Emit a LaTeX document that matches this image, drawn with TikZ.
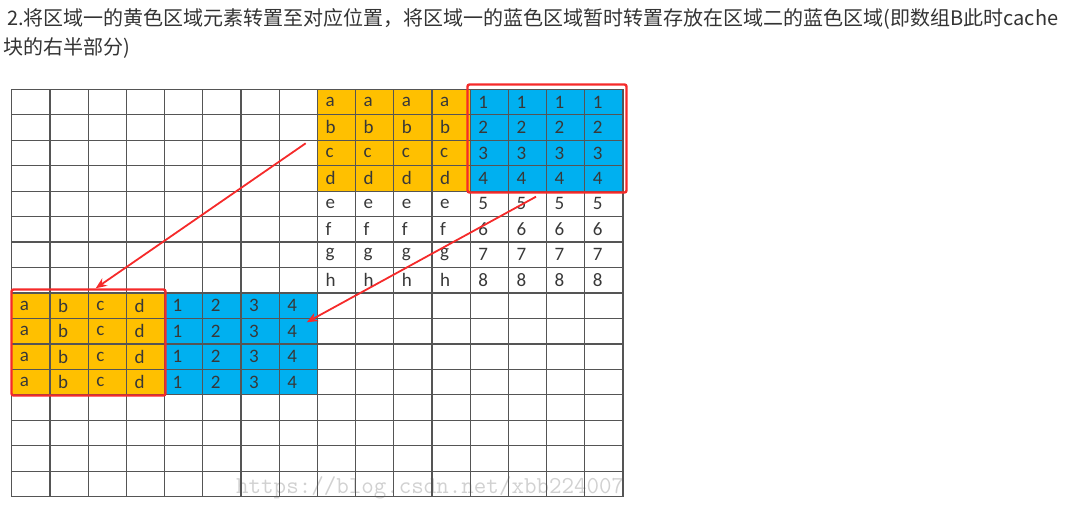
\documentclass[tikz,border=0pt]{standalone}
\usepackage{fontspec}
\setmainfont{Carlito}
\newfontfamily\cjk{Noto Sans CJK SC}
\usepackage{xcolor}
\usetikzlibrary{
    arrows.meta,
    calc
}
\definecolor{cellyel}{HTML}{FFC000}
\definecolor{cellblu}{HTML}{00B0F0}
\definecolor{gridgray}{HTML}{555555}
\definecolor{markred}{HTML}{F52A2A}
\definecolor{titlegray}{HTML}{333333}
\tikzset{yelcell/.style={fill=cellyel, draw=none}}
\tikzset{blucell/.style={fill=cellblu, draw=none}}
\tikzset{gridline/.style={draw=gridgray, line width=1.2pt}}
\tikzset{celltxt/.style={anchor=west, inner sep=0pt, font=\fontsize{19}{19}\selectfont, text=black!78}}
\tikzset{redbox/.style={draw=markred, line width=2.4pt, rounded corners=2pt}}
\tikzset{redarrow/.style={draw=markred, line width=1.8pt, -{Stealth[length=11pt, width=9pt]}}}

\begin{document}
\begin{tikzpicture}[x=1pt, y=-1pt]
                        \useasboundingbox (0,0) rectangle (1082,516);
                        % title
                        \node[anchor=west, inner sep=0pt, text=titlegray, font=\cjk\fontsize{20}{20}\selectfont] (title1) at (7,19) {2.将区域一的黄色区域元素转置至对应位置，将区域一的蓝色区域暂时转置存放在区域二的蓝色区域(即数组B此时cache};
                        \node[anchor=west, inner sep=0pt, text=titlegray, font=\cjk\fontsize{20}{20}\selectfont] (title2) at (3,48) {块的右半部分)};

                        % coloured cells
                        \foreach \r in {0,...,3} {
                            \foreach \c in {8,...,11}
                                \path[yelcell] ({11.7+\c*38.2},{89.3+\r*25.46}) rectangle ++(38.2,25.46);
                            \foreach \c in {12,...,15}
                                \path[blucell] ({11.7+\c*38.2},{89.3+\r*25.46}) rectangle ++(38.2,25.46);
                        }
                        \foreach \r in {8,...,11} {
                            \foreach \c in {0,...,3}
                                \path[yelcell] ({11.7+\c*38.2},{89.3+\r*25.46}) rectangle ++(38.2,25.46);
                            \foreach \c in {4,...,7}
                                \path[blucell] ({11.7+\c*38.2},{89.3+\r*25.46}) rectangle ++(38.2,25.46);
                        }

                        % watermark
                        \node[anchor=base west, inner sep=0pt, text=black!18, font=\ttfamily\fontsize{24.3}{24.3}\selectfont] (mark) at (236,493) {https://blog.csdn.net/xbb224007};

                        % grid
                        \foreach \i in {0,...,16} {
                            \draw[gridline] ({11.7+\i*38.2},89.3) -- ({11.7+\i*38.2},496.7);
                            \draw[gridline] (11.7,{89.3+\i*25.46}) -- (623.3,{89.3+\i*25.46});
                        }

                        % letters and numbers
                        \foreach \ch [count=\r from 0] in {a,b,c,d,e,f,g,h} {
                            \foreach \c in {8,...,11}
                                \node[celltxt] (t-\r-\c) at ({11.7+\c*38.2+8},{89.3+\r*25.46+12.7}) {\ch};
                            \foreach \c in {12,...,15}
                                \node[celltxt] (t-\r-\c) at ({11.7+\c*38.2+8},{89.3+\r*25.46+12.7}) {\the\numexpr\r+1\relax};
                        }
                        \foreach \r in {8,...,11} {
                            \foreach \ch [count=\c from 0] in {a,b,c,d}
                                \node[celltxt] (t-\r-\c) at ({11.7+\c*38.2+8},{89.3+\r*25.46+12.7}) {\ch};
                            \foreach \c in {4,...,7}
                                \node[celltxt] (t-\r-\c) at ({11.7+\c*38.2+8},{89.3+\r*25.46+12.7}) {\the\numexpr\c-3\relax};
                        }

                        % red frames
                        \node[redbox, inner sep=0pt, minimum width=159pt, minimum height=108pt] (blufrm) at (547,138.5) {};
                        \node[redbox, inner sep=0pt, minimum width=154pt, minimum height=106pt] (yelfrm) at (88.5,342.5) {};

                        % arrows
                        \coordinate (from1) at (305.7,143.3);
                        \coordinate (to1) at (95.7,288.3);
                        \coordinate (from2) at (536,196.7);
                        \coordinate (to2) at (306.7,322.3);
                        \draw[redarrow] (from1) -- (to1);
                        \draw[redarrow] (from2) -- (to2);
                    \end{tikzpicture}
\end{document}
